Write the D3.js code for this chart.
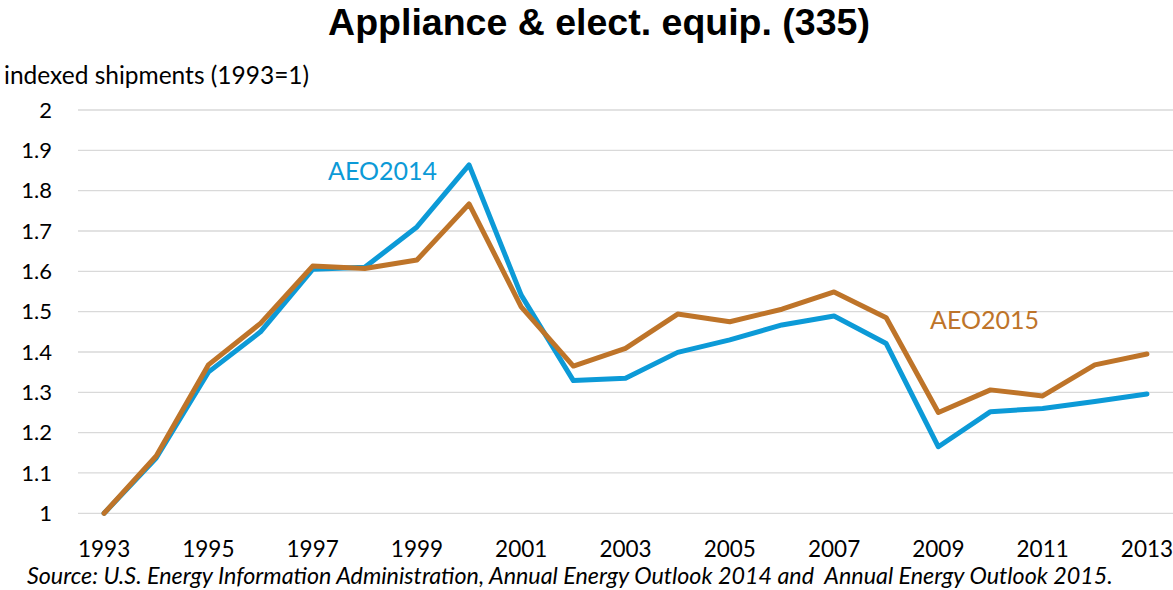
<!DOCTYPE html>
<html>
<head>
<meta charset="utf-8">
<script src="https://cdn.jsdelivr.net/npm/d3@7/dist/d3.min.js"></script>
<style>
  html, body { margin: 0; padding: 0; background: #fff; }
  svg { display: block; font-family: Lato, "Open Sans", sans-serif; }
</style>
</head>
<body>
<svg id="chart" width="1173" height="590"></svg>
<script>
const years = ["1993","1994","1995","1996","1997","1998","1999","2000","2001","2002","2003",
               "2004","2005","2006","2007","2008","2009","2010","2011","2012","2013"];
const aeo2014 = [1.0,1.137,1.35,1.45,1.605,1.61,1.71,1.864,1.541,1.329,1.335,
                 1.399,1.43,1.467,1.489,1.421,1.165,1.252,1.26,1.277,1.296];
const aeo2015 = [1.0,1.142,1.368,1.471,1.613,1.607,1.628,1.767,1.512,1.365,1.409,
                 1.494,1.475,1.506,1.549,1.485,1.25,1.306,1.291,1.368,1.395];
const yTicks = [1,1.1,1.2,1.3,1.4,1.5,1.6,1.7,1.8,1.9,2];
const xTickLabels = ["1993","1995","1997","1999","2001","2003","2005","2007","2009","2011","2013"];

const svg = d3.select("#chart");
const plotLeft = 78, plotRight = 1173, plotTop = 110, plotBottom = 513.3;

const x = d3.scaleBand().domain(years).range([plotLeft, plotRight]);
const y = d3.scaleLinear().domain([1, 2]).range([plotBottom, plotTop]);
const cx = d => x(d) + x.bandwidth() / 2;

// gridlines
svg.append("g")
  .selectAll("line").data(yTicks).join("line")
  .attr("x1", plotLeft).attr("x2", plotRight)
  .attr("y1", d => y(d)).attr("y2", d => y(d))
  .attr("stroke", "#d9d9d9").attr("stroke-width", 1.3);

// y axis labels
const yAxis = d3.axisLeft(y).tickValues(yTicks).tickFormat(d3.format("~g")).tickSize(0).tickPadding(0);
const yg = svg.append("g").attr("transform", `translate(52,0)`).call(yAxis);
yg.select(".domain").remove();
yg.selectAll("text").attr("font-size", 22).attr("fill", "#000").attr("font-family", "Lato, sans-serif");

// x axis labels
const xAxis = d3.axisBottom(x).tickValues(xTickLabels).tickSize(0).tickPadding(0);
const xg = svg.append("g").attr("transform", `translate(0,541)`).call(xAxis);
xg.select(".domain").remove();
xg.selectAll("text").attr("font-size", 22.5).attr("fill", "#000").attr("font-family", "Lato, sans-serif");

// lines
const line = d3.line().x((d, i) => cx(years[i])).y(d => y(d));
svg.append("path").datum(aeo2014).attr("d", line)
  .attr("fill", "none").attr("stroke", "#0C9AD7").attr("stroke-width", 5)
  .attr("stroke-linejoin", "round").attr("stroke-linecap", "round");
svg.append("path").datum(aeo2015).attr("d", line)
  .attr("fill", "none").attr("stroke", "#BE7429").attr("stroke-width", 5)
  .attr("stroke-linejoin", "round").attr("stroke-linecap", "round");

// title
svg.append("text").attr("x", 599).attr("y", 34.5).attr("text-anchor", "middle")
  .attr("font-family", "'Liberation Sans', Arial, sans-serif")
  .attr("font-size", 37.5).attr("font-weight", "bold").attr("fill", "#000")
  .text("Appliance & elect. equip. (335)");

// y label
svg.append("text").attr("x", 4).attr("y", 84).attr("font-size", 24.5).attr("fill", "#000")
  .text("indexed shipments (1993=1)");

// series labels
svg.append("text").attr("x", 328).attr("y", 180).attr("font-size", 25).attr("fill", "#0C9AD7")
  .text("AEO2014");
svg.append("text").attr("x", 930).attr("y", 329).attr("font-size", 25).attr("fill", "#BE7429")
  .text("AEO2015");

// source
svg.append("text").attr("x", 27).attr("y", 584).attr("font-size", 23.3).attr("font-style", "italic").attr("fill", "#000")
  .attr("xml:space", "preserve")
  .text("Source: U.S. Energy Information Administration, Annual Energy Outlook 2014 and  Annual Energy Outlook 2015.");
</script>
</body>
</html>
